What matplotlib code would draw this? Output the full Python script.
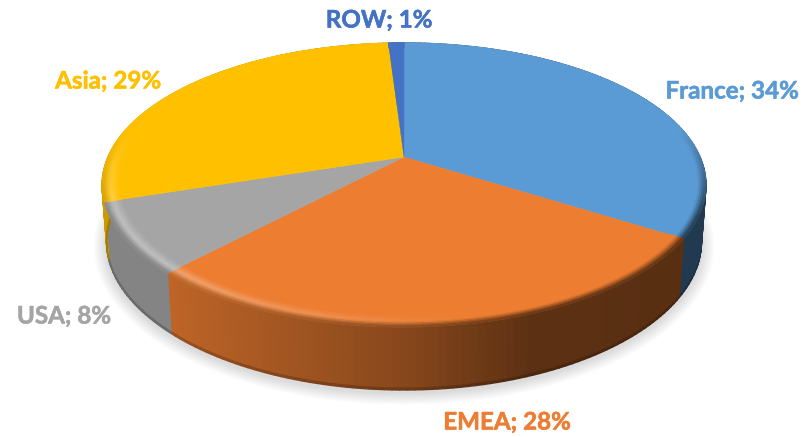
import numpy as np
import matplotlib
matplotlib.use('Agg')
import matplotlib.pyplot as plt
from matplotlib.collections import PolyCollection
from matplotlib.colors import to_rgb
from matplotlib.patches import Polygon
import matplotlib.patheffects as pe

categories = ['France', 'EMEA', 'USA', 'Asia', 'ROW']
values = [34, 28, 8, 29, 1]
colors = ['#5B9BD5', '#ED7D31', '#A5A5A5', '#FFC000', '#4472C4']
label_pos = [(732, 91), (507, 422), (64, 316), (108, 81), (379, 20)]

CX, CY = 404, 157   # where the slices meet, pixels
A, B, K = 296, 136.5, 0.197   # perspective ellipse
DEPTH = 63

plt.rcParams['font.family'] = ['Lato', 'DejaVu Sans']
fig = plt.figure(figsize=(8.02, 4.37), dpi=100)
ax = fig.add_axes([0, 0, 1, 1])
ax.set_xlim(0, 802)
ax.set_ylim(437, 0)
ax.axis('off')


def top_xy(theta, r=1.0):  # theta clockwise from 12 o'clock
    u, v = r*np.sin(theta), r*np.cos(theta)
    w = 1 + K*v
    return CX + A*u/w, CY - B*v/w


def bottom_xy(theta, frac=1.0):  # same circle pushed down, frac = how far down
    x, y = top_xy(theta)
    return CX + (x-CX)*(1 - 0.015*frac), y + frac*(DEPTH - 6*np.sin(theta)**2)


def wall_shade(x):
    return np.interp(x, [100, 170, 404, 530, 710], [0.80, 0.80, 0.57, 0.39, 0.37])


def bevel_colour(base, x, v, s):
    base = np.array(base)
    front = np.clip(0.35 - v*1.6, 0, 1)
    hl = 0.30*np.clip((480 - x)/300, 0, 1)
    light = base + (1 - base)*hl
    edge = base*wall_shade(x)
    if s < 0.55:
        c = base + (light - base)*s/0.55
    else:
        c = light + (edge - light)*(s - 0.55)/0.45
    return base + (c - base)*front


# soft shadow under the pie
all_t = np.linspace(0, 2*np.pi, 361)
sx, sy = bottom_xy(all_t)
for grow in np.linspace(13, 1, 12):
    px = CX + (sx - CX)*(1 + grow/300)
    py = (CY + 60) + (sy - (CY + 60))*(1 + grow/190) + 3
    ax.add_patch(Polygon(np.c_[px, py], closed=True, fc='#808080', ec='none', alpha=0.022, zorder=1))

fractions = np.cumsum([0] + values)/sum(values)*2*np.pi

# side walls
for i, val in enumerate(values):
    base = np.array(to_rgb(colors[i]))
    t = np.linspace(fractions[i], fractions[i+1], max(int(val*3), 4))
    polys, cols = [], []
    for t0, t1 in zip(t[:-1], t[1:]):
        x0, y0 = top_xy(t0)
        x1, y1 = top_xy(t1)
        bx0, by0 = bottom_xy(t0, 0.97)
        bx1, by1 = bottom_xy(t1, 0.97)
        ex0, ey0 = bottom_xy(t0)
        ex1, ey1 = bottom_xy(t1)
        f = wall_shade((x0 + x1)/2)
        polys.append([(x0, y0), (x1, y1), (bx1, by1), (bx0, by0)])
        cols.append(base*f)
        polys.append([(bx0, by0), (bx1, by1), (ex1, ey1), (ex0, ey0)])
        cols.append(base*f*0.8)
    ax.add_collection(PolyCollection(polys, facecolors=cols, edgecolors=cols, linewidths=1.0, zorder=2))

# top face
for i, val in enumerate(values):
    t = np.linspace(fractions[i], fractions[i+1], max(int(val*6), 6))
    x, y = top_xy(t)
    pts = np.r_[[(CX, CY)], np.c_[x, y]]
    ax.add_patch(Polygon(pts, closed=True, fc=colors[i], ec=colors[i], lw=0.3, zorder=3))

# rounded edge of the top face
radii = np.linspace(0.945, 1.0, 10)
for i, val in enumerate(values):
    base = to_rgb(colors[i])
    t = np.linspace(fractions[i], fractions[i+1], max(int(val*3), 4))
    polys, cols = [], []
    for r0, r1 in zip(radii[:-1], radii[1:]):
        for t0, t1 in zip(t[:-1], t[1:]):
            x00, y00 = top_xy(t0, r0)
            x10, y10 = top_xy(t1, r0)
            x11, y11 = top_xy(t1, r1)
            x01, y01 = top_xy(t0, r1)
            tm = (t0 + t1)/2
            c = bevel_colour(base, (x00 + x11)/2, np.cos(tm), (r0 + r1 - 2*radii[0])/(2*(1 - radii[0])))
            polys.append([(x00, y00), (x10, y10), (x11, y11), (x01, y01)])
            cols.append(c)
    ax.add_collection(PolyCollection(polys, facecolors=cols, edgecolors=cols, linewidths=0.8, zorder=4))

for name, val, col, pos in zip(categories, values, colors, label_pos):
    ax.text(pos[0], pos[1], f'{name}; {val}%', color=col, fontsize=17.4, fontweight='bold',
            ha='center', va='center', zorder=5,
            path_effects=[pe.withStroke(linewidth=0.4, foreground=col)])

fig.savefig('out.png', dpi=100)
